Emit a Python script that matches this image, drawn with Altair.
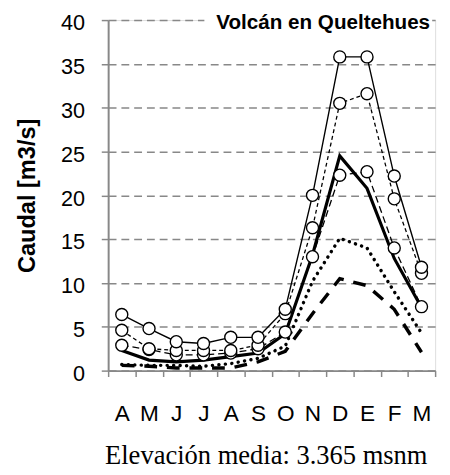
import altair as alt
import pandas as pd

# ---- data ----
month_keys = ["Abr", "May", "Jun", "Jul", "Ago", "Sep", "Oct", "Nov", "Dic", "Ene", "Feb", "Mar"]
tick_labels = ["A", "M", "J", "J", "A", "S", "O", "N", "D", "E", "F", "M"]

s_top = [6.4, 4.8, 3.3, 3.1, 3.8, 3.8, 7.0, 20.0, 35.8, 35.8, 22.2, 11.8]
s_mid = [4.6, 2.5, 2.3, 2.3, 2.3, 2.9, 6.5, 16.3, 30.5, 31.6, 19.6, 11.1]
s_low = [2.9, 2.4, 1.8, 1.8, 2.0, 2.5, 4.4, 13.0, 22.3, 22.7, 14.0, 7.3]
s_thick = [2.3, 1.2, 1.0, 1.2, 1.6, 2.0, 4.2, 13.2, 24.5, 20.8, 12.8, 7.2]
s_dot = [0.7, 0.6, 0.6, 0.5, 0.8, 1.4, 2.8, 10.2, 15.1, 14.0, 9.0, 4.3]
s_dash = [0.6, 0.5, 0.3, 0.3, 0.3, 1.0, 2.2, 6.5, 10.5, 9.7, 7.0, 2.1]

title_text = "Volcán en Queltehues"
y_title = "Caudal [m3/s]"
footer_text = "Elevación media: 3.365  msnm"
y_ticks = [0, 5, 10, 15, 20, 25, 30, 35, 40]


def frame(vals):
    return pd.DataFrame({"month": month_keys, "value": vals})


label_expr = ""
for k, l in zip(month_keys, tick_labels):
    label_expr += f"datum.value == '{k}' ? '{l}' : "
label_expr += "''"

W, H = 333, 357
FONT = "Liberation Sans"

x_enc = alt.X(
    "month:O",
    sort=month_keys,
    scale=alt.Scale(type="band", paddingInner=0, paddingOuter=0),
    axis=alt.Axis(
        title=None,
        labelExpr=label_expr,
        labelAngle=0,
        tickBand="extent",
        domainColor="#888888",
        domainWidth=2,
        tickColor="#888888",
        tickWidth=1.5,
        tickSize=6,
        labelPadding=27,
        labelFont=FONT,
        labelFontSize=23,
        labelColor="black",
        grid=False,
    ),
)
y_enc = alt.Y(
    "value:Q",
    scale=alt.Scale(domain=[0, 40], nice=False, zero=True),
    axis=alt.Axis(
        values=y_ticks,
        title=y_title,
        titleFont=FONT,
        titleFontSize=24,
        titleFontWeight="bold",
        titleColor="black",
        titlePadding=22,
        labelFont=FONT,
        labelFontSize=22,
        labelColor="black",
        labelPadding=17,
        labelOffset=3,
        tickColor="#888888",
        tickWidth=1.5,
        tickSize=7,
        domainColor="#888888",
        domainWidth=2,
        grid=True,
        gridColor="#888888",
        gridDash=[8, 5],
        gridWidth=1.5,
    ),
)


def line(vals, **kw):
    return alt.Chart(frame(vals)).mark_line(color="black", **kw).encode(x=x_enc, y=y_enc)


def pts(vals):
    return alt.Chart(frame(vals)).mark_point(
        shape="circle", filled=True, fill="white", stroke="black",
        strokeWidth=1.4, size=150, opacity=1,
    ).encode(x=x_enc, y=y_enc)


layers = [
    line(s_dash, strokeWidth=3.5, strokeDash=[13, 10]),
    line(s_dot, strokeWidth=3.5, strokeDash=[0.1, 6.5], strokeCap="round"),
    line(s_low, strokeWidth=1.3, strokeDash=[7, 4]),
    line(s_mid, strokeWidth=1.3, strokeDash=[4, 3]),
    line(s_top, strokeWidth=1.4),
    line(s_thick, strokeWidth=3.2),
    pts(s_low),
    pts(s_mid),
    pts(s_top),
]

title_box = alt.Chart(pd.DataFrame({"t": [title_text]})).mark_rect(color="white").encode(
    x=alt.value(98), x2=alt.value(330), y=alt.value(-8), y2=alt.value(13)
)
title_mark = alt.Chart(pd.DataFrame({"t": [title_text]})).mark_text(
    font=FONT, fontSize=21, fontWeight="bold", color="black", align="center", baseline="middle"
).encode(text="t:N", x=alt.value(219), y=alt.value(3))
footer = alt.Chart(pd.DataFrame({"t": [footer_text]})).mark_text(
    font="Liberation Serif", fontSize=27, color="black", align="center", baseline="middle"
).encode(text="t:N", x=alt.value(161), y=alt.value(444))

chart = alt.layer(*layers, title_box, title_mark, footer).properties(
    width=W,
    height=H,
    autosize=alt.AutoSizeParams(type="none"),
    padding={"left": 102, "top": 8, "right": 7, "bottom": 102},
).configure_view(stroke=None).configure(background="white")

chart.save("out.html", embed_options={"renderer": "svg", "actions": False})
